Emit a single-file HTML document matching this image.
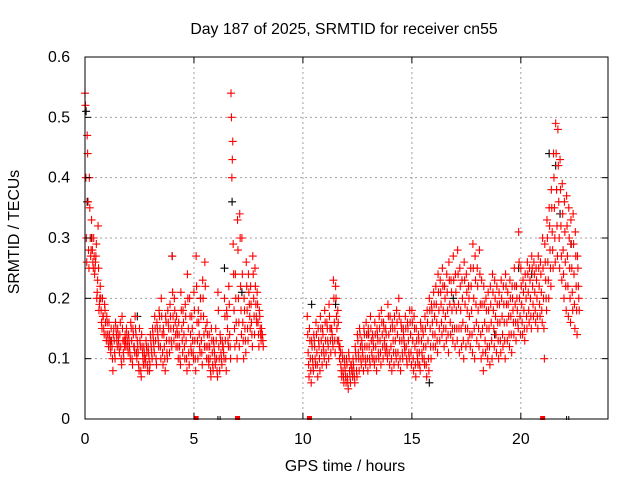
<!DOCTYPE html>
<html><head><meta charset="utf-8"><style>
body{margin:0;background:#fff}
svg{display:block;font-family:"Liberation Sans",sans-serif}
</style></head><body>
<svg id="chart" width="640" height="480" viewBox="0 0 640 480">
<rect width="640" height="480" fill="#fff"/>
<text x="344" y="34" font-size="15.8" text-anchor="middle">Day 187 of 2025, SRMTID for receiver cn55</text>
<text transform="translate(19,232) rotate(-90)" font-size="15.8" text-anchor="middle">SRMTID / TECUs</text>
<text x="345" y="471" font-size="15.8" text-anchor="middle">GPS time / hours</text>
<g id="grid"></g>
<g id="marks"></g>
<g id="axes"></g>
</svg>
<script>
const xTicks=[0,5,10,15,20];
const yTicks=[0,0.1,0.2,0.3,0.4,0.5,0.6];
const yTickLabels=["0","0.1","0.2","0.3","0.4","0.5","0.6"];
const segStartA=0, segStartB=10.2, step=0.1;
const redHiA=[0.54,0.47,0.40,0.33,0.30,0.27,0.32,0.22,0.20,0.19,0.17,0.16,0.15,0.14,0.16,0.15,0.14,0.17,0.13,0.15,0.14,0.16,0.15,0.17,0.13,0.15,0.14,0.12,0.13,0.12,0.14,0.15,0.17,0.16,0.18,0.20,0.15,0.17,0.18,0.19,0.27,0.20,0.17,0.16,0.21,0.18,0.19,0.24,0.20,0.17,0.21,0.27,0.18,0.20,0.23,0.26,0.16,0.14,0.15,0.13,0.15,0.21,0.14,0.13,0.20,0.18,0.22,0.54,0.29,0.24,0.33,0.34,0.30,0.20,0.26,0.24,0.22,0.27,0.25,0.21,0.18,0.15];
const redMidHiA=[0.52,0.44,0.35,0.30,0.27,0.29,0.25,0.20,0.17,0.18,0.16,0.14,0.13,0.15,0.15,0.14,0.16,0.15,0.12,0.14,0.13,0.15,0.14,0.15,0.12,0.13,0.12,0.11,0.12,0.11,0.13,0.14,0.15,0.15,0.17,0.17,0.14,0.16,0.16,0.17,0.21,0.18,0.15,0.14,0.18,0.16,0.17,0.20,0.17,0.15,0.18,0.22,0.16,0.17,0.20,0.22,0.14,0.12,0.13,0.12,0.13,0.18,0.13,0.12,0.17,0.17,0.19,0.50,0.24,0.20,0.28,0.30,0.24,0.18,0.22,0.21,0.19,0.24,0.22,0.19,0.17,0.14];
const redMidA=[0.40,0.36,0.30,0.28,0.24,0.20,0.18,0.18,0.17,0.16,0.14,0.13,0.12,0.13,0.14,0.13,0.12,0.13,0.14,0.13,0.12,0.13,0.12,0.14,0.11,0.12,0.11,0.10,0.11,0.10,0.12,0.13,0.13,0.14,0.15,0.14,0.12,0.13,0.15,0.15,0.17,0.16,0.14,0.12,0.15,0.14,0.13,0.15,0.14,0.13,0.13,0.16,0.14,0.13,0.17,0.15,0.12,0.10,0.11,0.11,0.10,0.12,0.11,0.12,0.13,0.15,0.14,0.40,0.18,0.16,0.20,0.22,0.16,0.15,0.18,0.19,0.16,0.20,0.19,0.16,0.15,0.14];
const redMidLoA=[0.30,0.28,0.27,0.26,0.25,0.21,0.19,0.16,0.15,0.14,0.13,0.12,0.10,0.11,0.13,0.12,0.10,0.11,0.13,0.12,0.11,0.10,0.12,0.11,0.09,0.08,0.10,0.09,0.09,0.08,0.11,0.12,0.10,0.13,0.12,0.11,0.10,0.11,0.13,0.13,0.15,0.14,0.12,0.10,0.13,0.12,0.10,0.11,0.12,0.11,0.10,0.13,0.12,0.11,0.14,0.12,0.10,0.08,0.09,0.10,0.08,0.10,0.10,0.11,0.10,0.13,0.12,0.43,0.15,0.13,0.16,0.18,0.13,0.13,0.15,0.17,0.14,0.17,0.17,0.14,0.14,0.13];
const redLoA=[0.26,0.25,0.28,0.25,0.26,0.23,0.20,0.15,0.14,0.13,0.12,0.11,0.08,0.10,0.12,0.11,0.09,0.10,0.12,0.11,0.10,0.09,0.11,0.10,0.08,0.07,0.09,0.10,0.08,0.09,0.10,0.11,0.09,0.12,0.10,0.09,0.08,0.10,0.11,0.12,0.13,0.12,0.10,0.09,0.11,0.10,0.08,0.09,0.11,0.10,0.08,0.10,0.11,0.09,0.12,0.10,0.09,0.07,0.08,0.09,0.07,0.08,0.09,0.10,0.08,0.12,0.10,0.46,0.12,0.10,0.12,0.14,0.10,0.11,0.13,0.15,0.12,0.14,0.16,0.12,0.13,0.12];
const redHiB=[0.17,0.15,0.13,0.14,0.16,0.15,0.17,0.15,0.18,0.16,0.19,0.15,0.23,0.22,0.18,0.12,0.11,0.10,0.10,0.11,0.09,0.10,0.12,0.14,0.15,0.13,0.15,0.16,0.15,0.17,0.14,0.16,0.15,0.17,0.18,0.16,0.15,0.19,0.17,0.16,0.17,0.18,0.20,0.16,0.15,0.17,0.16,0.18,0.18,0.17,0.15,0.14,0.16,0.15,0.17,0.18,0.20,0.19,0.21,0.22,0.24,0.23,0.25,0.22,0.24,0.26,0.23,0.27,0.24,0.28,0.25,0.23,0.26,0.24,0.22,0.25,0.29,0.27,0.25,0.28,0.23,0.22,0.20,0.21,0.22,0.24,0.23,0.22,0.21,0.23,0.22,0.24,0.21,0.23,0.22,0.25,0.22,0.31,0.25,0.23,0.24,0.26,0.25,0.27,0.26,0.25,0.27,0.26,0.30,0.29,0.33,0.35,0.38,0.44,0.49,0.48,0.43,0.39,0.36,0.37,0.35,0.33,0.34,0.31,0.27];
const redMidHiB=[0.14,0.13,0.12,0.13,0.14,0.13,0.15,0.14,0.16,0.15,0.17,0.15,0.20,0.20,0.16,0.11,0.10,0.09,0.09,0.10,0.09,0.09,0.11,0.13,0.14,0.12,0.14,0.14,0.14,0.15,0.13,0.14,0.14,0.15,0.16,0.15,0.14,0.17,0.15,0.15,0.15,0.16,0.17,0.15,0.14,0.15,0.15,0.16,0.16,0.15,0.13,0.13,0.15,0.14,0.15,0.16,0.18,0.18,0.19,0.19,0.21,0.21,0.22,0.20,0.21,0.23,0.21,0.23,0.21,0.24,0.22,0.20,0.23,0.21,0.20,0.22,0.25,0.23,0.22,0.24,0.19,0.19,0.18,0.18,0.19,0.21,0.20,0.19,0.19,0.20,0.19,0.22,0.19,0.20,0.20,0.22,0.20,0.26,0.22,0.21,0.22,0.24,0.23,0.25,0.24,0.23,0.25,0.24,0.25,0.26,0.30,0.32,0.35,0.40,0.44,0.42,0.38,0.34,0.31,0.32,0.30,0.29,0.29,0.27,0.25];
const redMidB=[0.11,0.10,0.10,0.12,0.11,0.12,0.13,0.12,0.13,0.13,0.15,0.14,0.16,0.17,0.13,0.09,0.08,0.08,0.07,0.08,0.08,0.08,0.10,0.11,0.12,0.11,0.12,0.12,0.12,0.13,0.12,0.12,0.13,0.13,0.14,0.13,0.12,0.14,0.12,0.13,0.13,0.14,0.13,0.13,0.13,0.12,0.13,0.14,0.13,0.12,0.11,0.11,0.13,0.12,0.12,0.13,0.15,0.16,0.17,0.16,0.18,0.19,0.18,0.17,0.18,0.19,0.18,0.19,0.18,0.19,0.18,0.16,0.19,0.18,0.17,0.18,0.20,0.19,0.18,0.19,0.15,0.16,0.15,0.15,0.16,0.18,0.17,0.16,0.16,0.17,0.16,0.19,0.17,0.17,0.18,0.19,0.18,0.20,0.19,0.18,0.20,0.21,0.20,0.22,0.21,0.20,0.22,0.21,0.20,0.23,0.26,0.28,0.31,0.35,0.38,0.36,0.32,0.28,0.26,0.27,0.25,0.25,0.24,0.22,0.22];
const redMidLoB=[0.09,0.08,0.09,0.10,0.09,0.10,0.11,0.11,0.11,0.12,0.13,0.13,0.13,0.15,0.12,0.08,0.07,0.07,0.06,0.07,0.08,0.07,0.08,0.10,0.10,0.10,0.10,0.10,0.10,0.11,0.10,0.10,0.11,0.11,0.12,0.12,0.11,0.11,0.10,0.11,0.11,0.11,0.10,0.11,0.12,0.10,0.11,0.11,0.10,0.09,0.10,0.09,0.11,0.10,0.09,0.10,0.12,0.14,0.14,0.13,0.15,0.16,0.15,0.15,0.14,0.16,0.15,0.15,0.15,0.15,0.15,0.13,0.15,0.15,0.14,0.14,0.15,0.16,0.15,0.14,0.11,0.13,0.12,0.12,0.13,0.15,0.14,0.13,0.13,0.14,0.13,0.16,0.14,0.14,0.16,0.16,0.16,0.17,0.16,0.15,0.17,0.18,0.17,0.19,0.18,0.17,0.19,0.18,0.15,0.20,0.23,0.25,0.28,0.30,0.32,0.30,0.27,0.24,0.22,0.22,0.20,0.21,0.19,0.18,0.20];
const redLoB=[0.07,0.06,0.08,0.09,0.07,0.08,0.09,0.10,0.09,0.10,0.11,0.12,0.11,0.13,0.10,0.07,0.06,0.06,0.05,0.06,0.07,0.06,0.07,0.08,0.09,0.08,0.09,0.08,0.09,0.10,0.09,0.08,0.10,0.09,0.10,0.11,0.10,0.09,0.08,0.09,0.10,0.09,0.08,0.10,0.11,0.09,0.10,0.09,0.08,0.07,0.09,0.08,0.10,0.09,0.07,0.08,0.10,0.12,0.12,0.11,0.13,0.14,0.12,0.13,0.11,0.14,0.13,0.12,0.13,0.11,0.12,0.10,0.12,0.13,0.12,0.11,0.10,0.13,0.12,0.10,0.08,0.11,0.10,0.09,0.10,0.12,0.11,0.10,0.11,0.12,0.10,0.13,0.12,0.11,0.14,0.13,0.15,0.14,0.14,0.13,0.15,0.16,0.15,0.17,0.16,0.15,0.17,0.16,0.10,0.18,0.20,0.22,0.25,0.26,0.27,0.25,0.23,0.20,0.18,0.17,0.16,0.18,0.15,0.14,0.18];
const blackTimes=[0.05,0.1,0.3,1.2,2.4,3.6,4.0,5.3,6.4,6.75,7.2,10.4,11.5,13.0,14.6,15.8,16.9,17.6,18.8,19.9,20.5,21.3,21.6,21.8,22.3];
const blackVals=[0.51,0.36,0.30,0.13,0.17,0.15,0.27,0.20,0.25,0.36,0.21,0.19,0.19,0.14,0.15,0.06,0.20,0.22,0.14,0.25,0.24,0.44,0.42,0.34,0.29];
const redEdgeTimes=[5.1,7.0,10.3,21.0];
const blackEdgeTimes=[6.1,6.2,12.2,22.1,22.2];

const X0=85,X1=608,Y0=419,Y1=57,XMAX=24,YMAX=0.6;
const sx=v=>X0+(X1-X0)*v/XMAX;
const sy=v=>Y0-(Y0-Y1)*v/YMAX;
const NS="http://www.w3.org/2000/svg";
function mk(tag,attrs,parent){const e=document.createElementNS(NS,tag);for(const k in attrs)e.setAttribute(k,attrs[k]);parent.appendChild(e);return e;}
const grid=document.getElementById('grid'),marks=document.getElementById('marks'),axes=document.getElementById('axes');
yTicks.forEach((t,i)=>{
  if(i>0&&i<yTicks.length-1){const g=mk('line',{x1:X0,x2:X1,y1:sy(t),y2:sy(t),stroke:'#a0a0a0','stroke-dasharray':'2,3'},grid);
  
  }
  const tl=mk('text',{x:X0-15,y:sy(t)+5,'font-size':15.8,'text-anchor':'end'},axes);tl.textContent=yTickLabels[i];
  
  
  mk('line',{x1:X0,x2:X0+6,y1:sy(t),y2:sy(t),stroke:'#000'},axes);
  mk('line',{x1:X1,x2:X1-6,y1:sy(t),y2:sy(t),stroke:'#000'},axes);
});
xTicks.forEach(t=>{
  if(t>0){const g=mk('line',{x1:sx(t),x2:sx(t),y1:Y0,y2:Y1,stroke:'#a0a0a0','stroke-dasharray':'2,3'},grid);
  
  }
  const tl=mk('text',{x:sx(t),y:Y0+25,'font-size':15.8,'text-anchor':'middle'},axes);tl.textContent=String(t);
  
  
  mk('line',{x1:sx(t),x2:sx(t),y1:Y0,y2:Y0-6,stroke:'#000'},axes);
  mk('line',{x1:sx(t),x2:sx(t),y1:Y1,y2:Y1+6,stroke:'#000'},axes);
});
const fr=mk('rect',{x:X0,y:Y1,width:X1-X0,height:Y0-Y1,fill:'none',stroke:'#000'},axes);


function cross(t,v,col){
  const x=sx(t),y=sy(v);
  const p=mk('path',{d:`M${x-4},${y}H${x+4}M${x},${y-4}V${y+4}`,stroke:col,'stroke-width':1.1,fill:'none'},marks);
  
  
}
blackTimes.forEach((t,i)=>cross(t,blackVals[i],'#000'));
[[redHiA,segStartA,0],[redMidHiA,segStartA,0.02],[redMidA,segStartA,0.04],[redMidLoA,segStartA,0.06],[redLoA,segStartA,0.08],
 [redHiB,segStartB,0],[redMidHiB,segStartB,0.02],[redMidB,segStartB,0.04],[redMidLoB,segStartB,0.06],[redLoB,segStartB,0.08]].forEach(([arr,s,o])=>{
  arr.forEach((v,i)=>cross(s+i*step+o,v,'#ff0000'));
});
redEdgeTimes.forEach(t=>{const r=mk('rect',{x:sx(t)-2.5,y:Y0-3,width:5,height:4,fill:'#ff0000'},marks);
  
  });
blackEdgeTimes.forEach(t=>{const r=mk('rect',{x:sx(t)-0.5,y:Y0-3,width:1,height:4,fill:'#000'},marks);
  
  });
</script>
</body></html>
